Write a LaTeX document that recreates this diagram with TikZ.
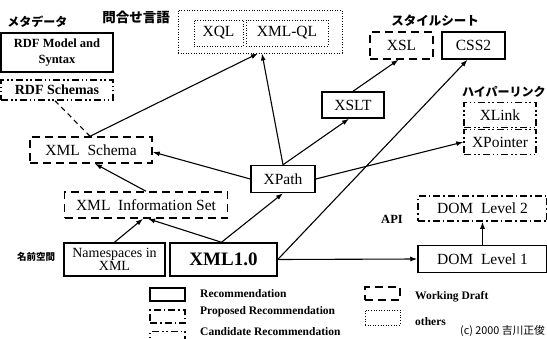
\documentclass[tikz,border=0pt]{standalone}
\usepackage{fontspec}
\setmainfont{Liberation Serif}
\newfontfamily\jp{Noto Sans CJK JP}
\usetikzlibrary{arrows.meta}
\begin{document}
\begin{tikzpicture}[x=1pt,y=-1pt,
  box/.style={rectangle, inner sep=0pt, anchor=center, align=center, font=\fontsize{15.5}{16}\selectfont},
  rec/.style={box, draw, line width=1.5pt},
  wd/.style={box, draw, line width=1.5pt, dash pattern=on 8pt off 5pt},
  prop/.style={box, draw, line width=1.5pt, dash pattern=on 7pt off 3pt on 1.5pt off 3pt},
  cand/.style={box, draw, line width=1.5pt, dash pattern=on 7pt off 3pt on 1.5pt off 2.5pt on 1.5pt off 3pt},
  oth/.style={box, draw, line width=0.9pt, dash pattern=on 1pt off 1.6pt},
  jlab/.style={inner sep=0pt, font=\jp\bfseries\fontsize{12}{12}\selectfont},
  blab/.style={inner sep=0pt, font=\bfseries\fontsize{11.5}{12}\selectfont},
  arr/.style={-{Latex[length=7pt,width=5pt]}, line width=1.1pt}
]
\useasboundingbox (0,0) rectangle (547,338);

% query languages
\node[oth, minimum width=164pt, minimum height=43pt] (qgroup) at (260,31.5) {};
\node[oth, minimum width=49pt, minimum height=26pt] (xql) at (218.5,33) {XQL};
\node[oth, minimum width=82pt, minimum height=26pt] (xmlql) at (287,33) {XML-QL};
\node[jlab, font=\jp\bfseries\fontsize{13.5}{13.5}\selectfont] (lq) at (136,17) {問合せ言語};

% metadata
\node[jlab] (lmeta) at (37.5,22) {メタデータ};
\node[rec, minimum width=112pt, minimum height=39pt, font=\bfseries\fontsize{12.5}{16.5}\selectfont] (rdfm) at (57,52.5) {RDF Model and\\Syntax};
\node[cand, minimum width=112pt, minimum height=20pt, font=\bfseries\fontsize{14}{14}\selectfont] (rdfs) at (57,90) {RDF Schemas};

% style sheets
\node[jlab, font=\jp\bfseries\fontsize{12.5}{12.5}\selectfont] (lstyle) at (435,21) {スタイルシート};
\node[wd, minimum width=63pt, minimum height=27pt] (xsl) at (401.5,45.5) {XSL};
\node[rec, minimum width=63pt, minimum height=27pt] (css) at (473.5,45.5) {CSS2};
\node[rec, minimum width=62pt, minimum height=26pt] (xslt) at (353,105) {XSLT};

% hyperlink
\node[jlab, anchor=west, font=\jp\bfseries\fontsize{12}{12}\selectfont] (llink) at (462,92) {ハイパーリンク};
\node[cand, minimum width=72pt, minimum height=25pt] (xlink) at (500,115) {XLink};
\node[cand, minimum width=72pt, minimum height=25pt] (xptr) at (500,142) {XPointer};

% core
\node[wd, minimum width=122pt, minimum height=26pt] (schema) at (91,150) {XML\ \ Schema};
\node[rec, minimum width=64pt, minimum height=27pt] (xpath) at (283,179) {XPath};
\node[wd, minimum width=163pt, minimum height=26pt] (info) at (146,205) {XML\ \ Information Set};
\node[rec, minimum width=101pt, minimum height=33pt, font=\fontsize{14}{12.5}\selectfont] (ns) at (114.5,259.5) {Namespaces in\\XML};
\node[rec, minimum width=107pt, minimum height=33pt, font=\bfseries\fontsize{19}{19}\selectfont] (xml) at (223.5,259.5) {XML1.0};
\node[jlab, font=\jp\bfseries\fontsize{9.5}{9.5}\selectfont] (lns) at (36,257) {名前空間};

% DOM
\node[blab, font=\bfseries\fontsize{12.5}{12.5}\selectfont] (lapi) at (392,219) {API};
\node[prop, minimum width=129pt, minimum height=25pt] (dom2) at (482.5,208.5) {DOM\ \ Level 2};
\node[rec, minimum width=129pt, minimum height=27pt] (dom1) at (482.5,259) {DOM\ \ Level 1};

% connectors
\draw[arr] (xml.east) -- (dom1.west);
\draw[arr] (dom1.north) -- (dom2.south);
\draw[arr] ([xshift=-2pt]xml.north) -- ([xshift=2pt]info.south);
\draw[arr] (ns.north) -- ([xshift=-3pt]info.south);
\draw[arr] (info.north) -- ([xshift=4pt]schema.south);
\draw[arr] (xpath.west) -- ([yshift=-2pt]schema.east);
\draw[arr] ([xshift=-2pt]xml.north) -- (xpath.south);
\draw[arr] ([xshift=-1pt]schema.north) -- ([xshift=-2pt]qgroup.south);
\draw[line width=1.1pt, dash pattern=on 5pt off 4pt] ([xshift=-2pt]rdfs.south) -- ([xshift=-1pt]schema.north);
\draw[arr] (xpath.north) -- ([xshift=2pt]qgroup.south);
\draw[arr] (xpath.north) -- ([xshift=-4pt]xslt.south);
\draw[arr] (xslt.north) -- ([xshift=-3pt]xsl.south);
\draw[arr] (xml.east) -- ([xshift=-6pt]css.south);
\draw[arr] (xpath.east) -- (xptr.west);

% legend
\node[rec, minimum width=35pt, minimum height=13pt] (lg1) at (167.5,294.5) {};
\node[prop, minimum width=35pt, minimum height=13pt] (lg2) at (167.5,316.5) {};
\node[cand, minimum width=35pt, minimum height=13pt] (lg3) at (167.5,338) {};
\node[wd, minimum width=35pt, minimum height=13pt] (lg4) at (382.5,293.5) {};
\node[oth, minimum width=35pt, minimum height=15pt] (lg5) at (382.5,317.5) {};
\node[blab, anchor=west] (lt1) at (200,294) {Recommendation};
\node[blab, anchor=west] (lt2) at (200,312) {Proposed Recommendation};
\node[blab, anchor=west] (lt3) at (200,332) {Candidate Recommendation};
\node[blab, anchor=west] (lt4) at (415,297) {Working Draft};
\node[blab, anchor=west] (lt5) at (415,322) {others};
\node[inner sep=0pt, anchor=west, font=\jp\fontsize{10.8}{10.8}\selectfont] (copy) at (460,331) {(c) 2000 吉川正俊};
\end{tikzpicture}
\end{document}
